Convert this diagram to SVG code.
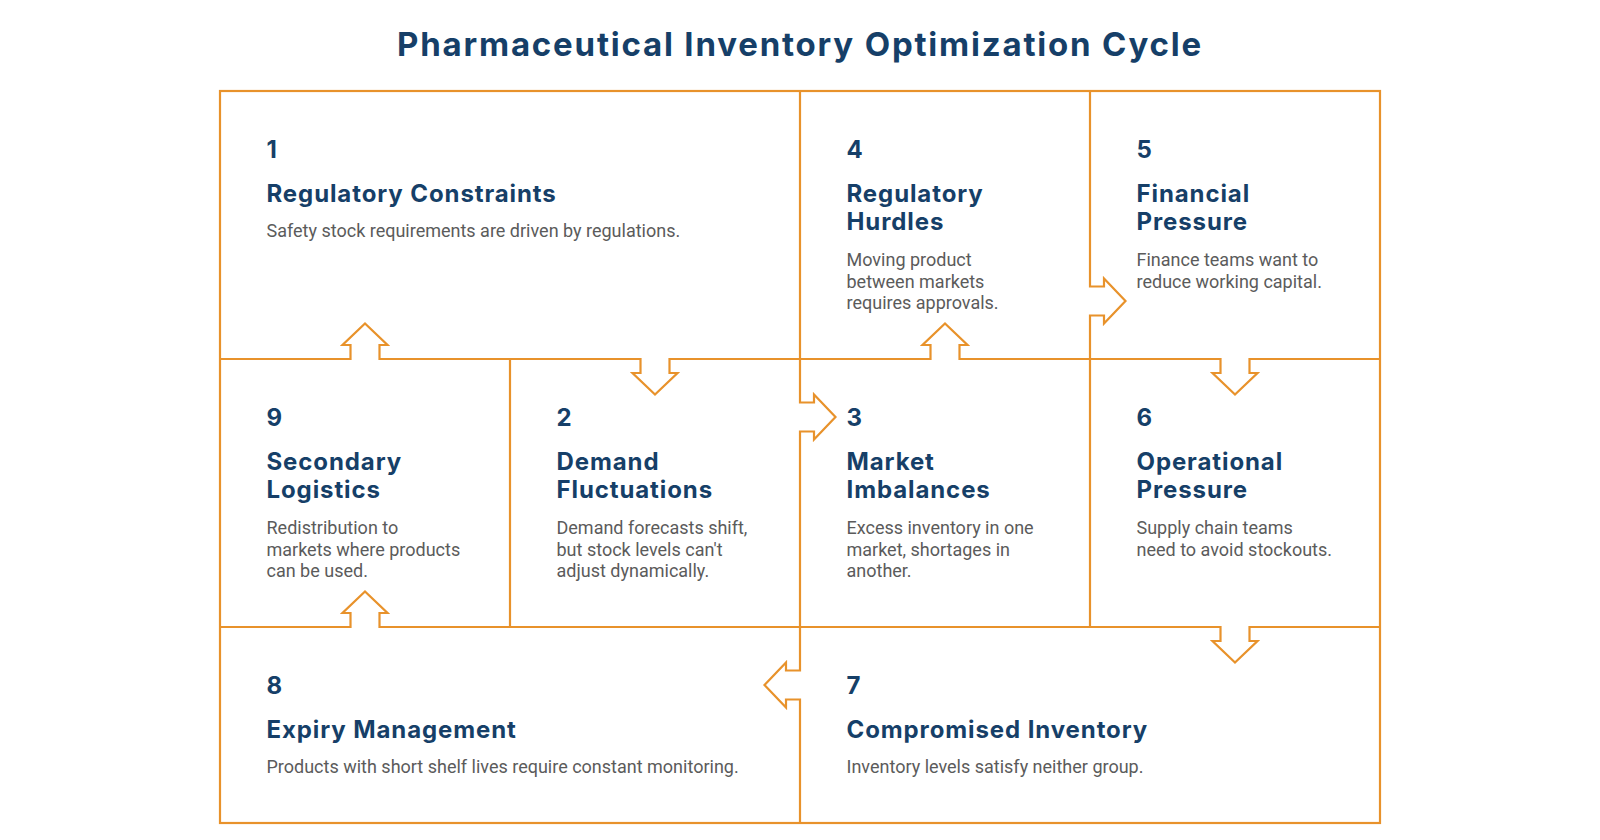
<svg xmlns="http://www.w3.org/2000/svg" width="1600" height="840" viewBox="0 0 1600 840">
<style>
.title{font-family:Inter,"Open Sans","DejaVu Sans",sans-serif;font-weight:700;font-size:33px;fill:#163f68;letter-spacing:1.8px}
.num{font-family:Inter,"Open Sans","DejaVu Sans",sans-serif;font-weight:700;font-size:24px;fill:#163f68}
.head{font-family:Inter,"Open Sans","DejaVu Sans",sans-serif;font-weight:700;font-size:24px;fill:#163f68;letter-spacing:0.9px}
.body{font-family:Roboto,"Liberation Sans",sans-serif;font-size:18px;fill:#5b5b5b}
.ln{fill:none;stroke:#e8922b;stroke-width:2.2;stroke-linejoin:miter}
</style>
<rect x="0" y="0" width="1600" height="840" fill="#ffffff"/>
<text class="title" x="800" y="55.5" text-anchor="middle">Pharmaceutical Inventory Optimization Cycle</text>
<g id="connectors">
<rect class="ln" x="220" y="91" width="1160" height="732"/>
<path class="ln" d="M220,359 H350.5 V345 H342.5 L365,323.5 L387.5,345 H379.5 V359 H640.5 V373 H632.5 L655,394.5 L677.5,373 H669.5 V359 H930.5 V345 H922.5 L945,323.5 L967.5,345 H959.5 V359 H1220.5 V373 H1212.5 L1235,394.5 L1257.5,373 H1249.5 V359 H1380"/>
<path class="ln" d="M220,627 H350.5 V613 H342.5 L365,591.5 L387.5,613 H379.5 V627 H1220.5 V641 H1212.5 L1235,662.5 L1257.5,641 H1249.5 V627 H1380"/>
<path class="ln" d="M800,91 V402.5 H814 V394.5 L835.5,417 L814,439.5 V431.5 H800 V670.5 H786 V662.5 L764.5,685 L786,707.5 V699.5 H800 V823"/>
<path class="ln" d="M1090,91 V286.5 H1104 V278.5 L1125.5,301 L1104,323.5 V315.5 H1090 V627"/>
<path class="ln" d="M510,359 V627"/>
</g>
<g id="node1">
<text class="num" x="266.5" y="157.8">1</text>
<text class="head" x="266.5" y="201.7">Regulatory Constraints</text>
<text class="body" x="266.5" y="236.8">Safety stock requirements are driven by regulations.</text>
</g>
<g id="node4">
<text class="num" x="846.5" y="157.8">4</text>
<text class="head" x="846.5" y="201.7">Regulatory<tspan x="846.5" dy="28.3">Hurdles</tspan></text>
<text class="body" x="846.5" y="265.7">Moving product<tspan x="846.5" dy="21.8">between markets</tspan><tspan x="846.5" dy="21.8">requires approvals.</tspan></text>
</g>
<g id="node5">
<text class="num" x="1136.5" y="157.8">5</text>
<text class="head" x="1136.5" y="201.7">Financial<tspan x="1136.5" dy="28.3">Pressure</tspan></text>
<text class="body" x="1136.5" y="265.7">Finance teams want to<tspan x="1136.5" dy="21.8">reduce working capital.</tspan></text>
</g>
<g id="node9">
<text class="num" x="266.5" y="425.8">9</text>
<text class="head" x="266.5" y="469.7">Secondary<tspan x="266.5" dy="28.3">Logistics</tspan></text>
<text class="body" x="266.5" y="533.7">Redistribution to<tspan x="266.5" dy="21.8">markets where products</tspan><tspan x="266.5" dy="21.8">can be used.</tspan></text>
</g>
<g id="node2">
<text class="num" x="556.5" y="425.8">2</text>
<text class="head" x="556.5" y="469.7">Demand<tspan x="556.5" dy="28.3">Fluctuations</tspan></text>
<text class="body" x="556.5" y="533.7">Demand forecasts shift,<tspan x="556.5" dy="21.8">but stock levels can't</tspan><tspan x="556.5" dy="21.8">adjust dynamically.</tspan></text>
</g>
<g id="node3">
<text class="num" x="846.5" y="425.8">3</text>
<text class="head" x="846.5" y="469.7">Market<tspan x="846.5" dy="28.3">Imbalances</tspan></text>
<text class="body" x="846.5" y="533.7">Excess inventory in one<tspan x="846.5" dy="21.8">market, shortages in</tspan><tspan x="846.5" dy="21.8">another.</tspan></text>
</g>
<g id="node6">
<text class="num" x="1136.5" y="425.8">6</text>
<text class="head" x="1136.5" y="469.7">Operational<tspan x="1136.5" dy="28.3">Pressure</tspan></text>
<text class="body" x="1136.5" y="533.7">Supply chain teams<tspan x="1136.5" dy="21.8">need to avoid stockouts.</tspan></text>
</g>
<g id="node8">
<text class="num" x="266.5" y="693.8">8</text>
<text class="head" x="266.5" y="737.7">Expiry Management</text>
<text class="body" x="266.5" y="772.8">Products with short shelf lives require constant monitoring.</text>
</g>
<g id="node7">
<text class="num" x="846.5" y="693.8">7</text>
<text class="head" x="846.5" y="737.7">Compromised Inventory</text>
<text class="body" x="846.5" y="772.8">Inventory levels satisfy neither group.</text>
</g>
</svg>
